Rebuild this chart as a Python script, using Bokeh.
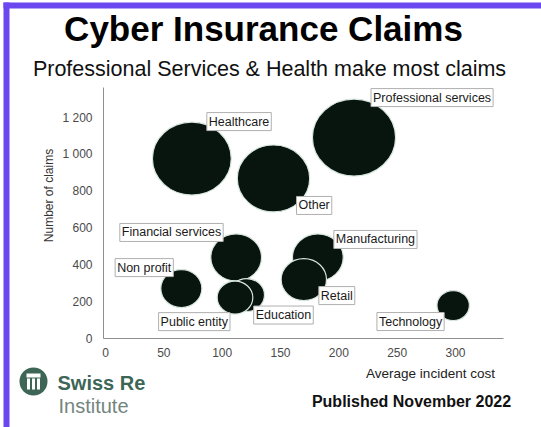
from bokeh.plotting import figure
from bokeh.models import Label, BoxAnnotation, Range1d, FixedTicker, ColumnDataSource, LinearAxis
from bokeh.embed import file_html
from bokeh.resources import INLINE
import math

# ---------------- data ----------------
categories = ["Healthcare", "Other", "Professional services", "Financial services",
              "Non profit", "Education", "Public entity", "Manufacturing", "Retail", "Technology"]
avg_cost = [74, 144, 213, 112, 65, 121, 111, 182, 170, 298]
claims = [977, 869, 1091, 440, 271, 236, 222, 440, 320, 179]
bubble_size = [73, 67, 77, 47, 38, 33, 33, 47, 42, 30]

x_ticks = [0, 50, 100, 150, 200, 250, 300]
y_ticks = [0, 200, 400, 600, 800, 1000, 1200]
y_tick_labels = ["0", "200", "400", "600", "800", "1 000", "1 200"]

# label placement (style): alignment, pixel offsets (dx right, dy down)
label_align = ["left", "left", "left", "right", "right", "left", "right", "left", "left", "right"]
label_dx = [15, 23, 17, -13, -8, 7, -5, 16, 15, -9]
label_dy = [-37, 27, -40, -25, -21, 20, 24, -18, 16, 16]

FONT = "Liberation Sans"
W, H = 541, 427

# pixel geometry of the chart area (layout)
X0PX, Y0PX = 105.0, 338.0            # pixel position of data origin
PXX, PXY = 350.0 / 300, 221.0 / 1200  # pixels per data unit


def cx(px):
    return (px - X0PX) / PXX


def cy(py):
    return (Y0PX - py) / PXY


p = figure(width=W, height=H, output_backend="svg", toolbar_location=None,
           x_range=Range1d(cx(0), cx(W)), y_range=Range1d(cy(H), cy(0)),
           x_axis_location=None, y_axis_location=None, min_border=0)
p.title.visible = False
p.outline_line_color = None
p.grid.visible = False
p.background_fill_color = "white"
p.border_fill_color = "white"

xaxis = LinearAxis(fixed_location=0, bounds=(cx(103), cx(503)), ticker=FixedTicker(ticks=x_ticks))
yaxis = LinearAxis(fixed_location=cx(103), bounds=(0, cy(87)), ticker=FixedTicker(ticks=y_ticks))
yaxis.major_label_overrides = {t: l for t, l in zip(y_ticks, y_tick_labels)}
for ax in (xaxis, yaxis):
    ax.axis_line_color = "#8f8f8f"
    ax.axis_line_width = 1
    ax.major_tick_line_color = None
    ax.minor_tick_line_color = None
    ax.major_tick_out = 0
    ax.major_tick_in = 0
    ax.major_label_text_font = FONT
    ax.major_label_text_font_size = "12px"
    ax.major_label_text_color = "#4a4a4a"
xaxis.major_label_standoff = 9
yaxis.major_label_standoff = 11
p.add_layout(xaxis, "below")
p.add_layout(yaxis, "left")

src = ColumnDataSource(dict(x=avg_cost, y=claims, h=bubble_size,
                            w=[s * 1.08 for s in bubble_size], name=categories))
p.ellipse(x="x", y="y", width="w", height="h", width_units="screen", height_units="screen",
          source=src, fill_color="#08140e", line_color="#d6e6dc", line_width=1.2)

for i, name in enumerate(categories):
    p.add_layout(Label(x=avg_cost[i], y=claims[i], x_units="data", y_units="data",
                       x_offset=label_dx[i], y_offset=-label_dy[i], text=name,
                       text_align=label_align[i], text_baseline="middle",
                       text_font=FONT, text_font_size="12.5px", text_color="#1a1a1a",
                       border_line_color="#b0b0b0", border_line_width=1,
                       background_fill_color="white", padding=2))


def ptext(x, y, text, size, color="#111111", style="normal", align="left",
          baseline="middle", angle=0.0):
    p.add_layout(Label(x=cx(x), y=cy(y), text=text,
                       text_font=FONT, text_font_size=size, text_color=color,
                       text_font_style=style, text_align=align, text_baseline=baseline,
                       angle=angle))


ptext(263, 28, "Cyber Insurance Claims", "35px", "#000000", "bold", "center", "middle")
ptext(269, 68, "Professional Services & Health make most claims", "21.5px", "#111111",
      "normal", "center", "middle")
ptext(48, 195, "Number of claims", "12px", "#333333", "normal", "center", "middle", math.pi / 2)
ptext(430, 373, "Average incident cost", "13.5px", "#222222", "normal", "center", "middle")
ptext(411, 401, "Published November 2022", "16px", "#111111", "bold", "center", "middle")
ptext(57, 382, "Swiss Re", "20px", "#3d6657", "bold", "left", "middle")
ptext(58, 405, "Institute", "20px", "#74857e", "normal", "left", "middle")


def pbox(l, r, t, b, color, radius=0):
    p.add_layout(BoxAnnotation(left=cx(l), right=cx(r), top=cy(t), bottom=cy(b),
                               fill_color=color, fill_alpha=1.0, line_color=None,
                               border_radius=radius, level="overlay"))


purple = "#6b47f0"
pbox(3, W, 2, 8, purple)
pbox(3, 9, 2, H, purple)
# logo
pbox(19, 47, 367, 395, "#3d6657", 14)
pbox(26, 40, 373, 377, "white")
for lx in (26.5, 31.5, 36.5):
    pbox(lx, lx + 3, 378, 389, "white")

open("out.html", "w").write(file_html(p, INLINE))
